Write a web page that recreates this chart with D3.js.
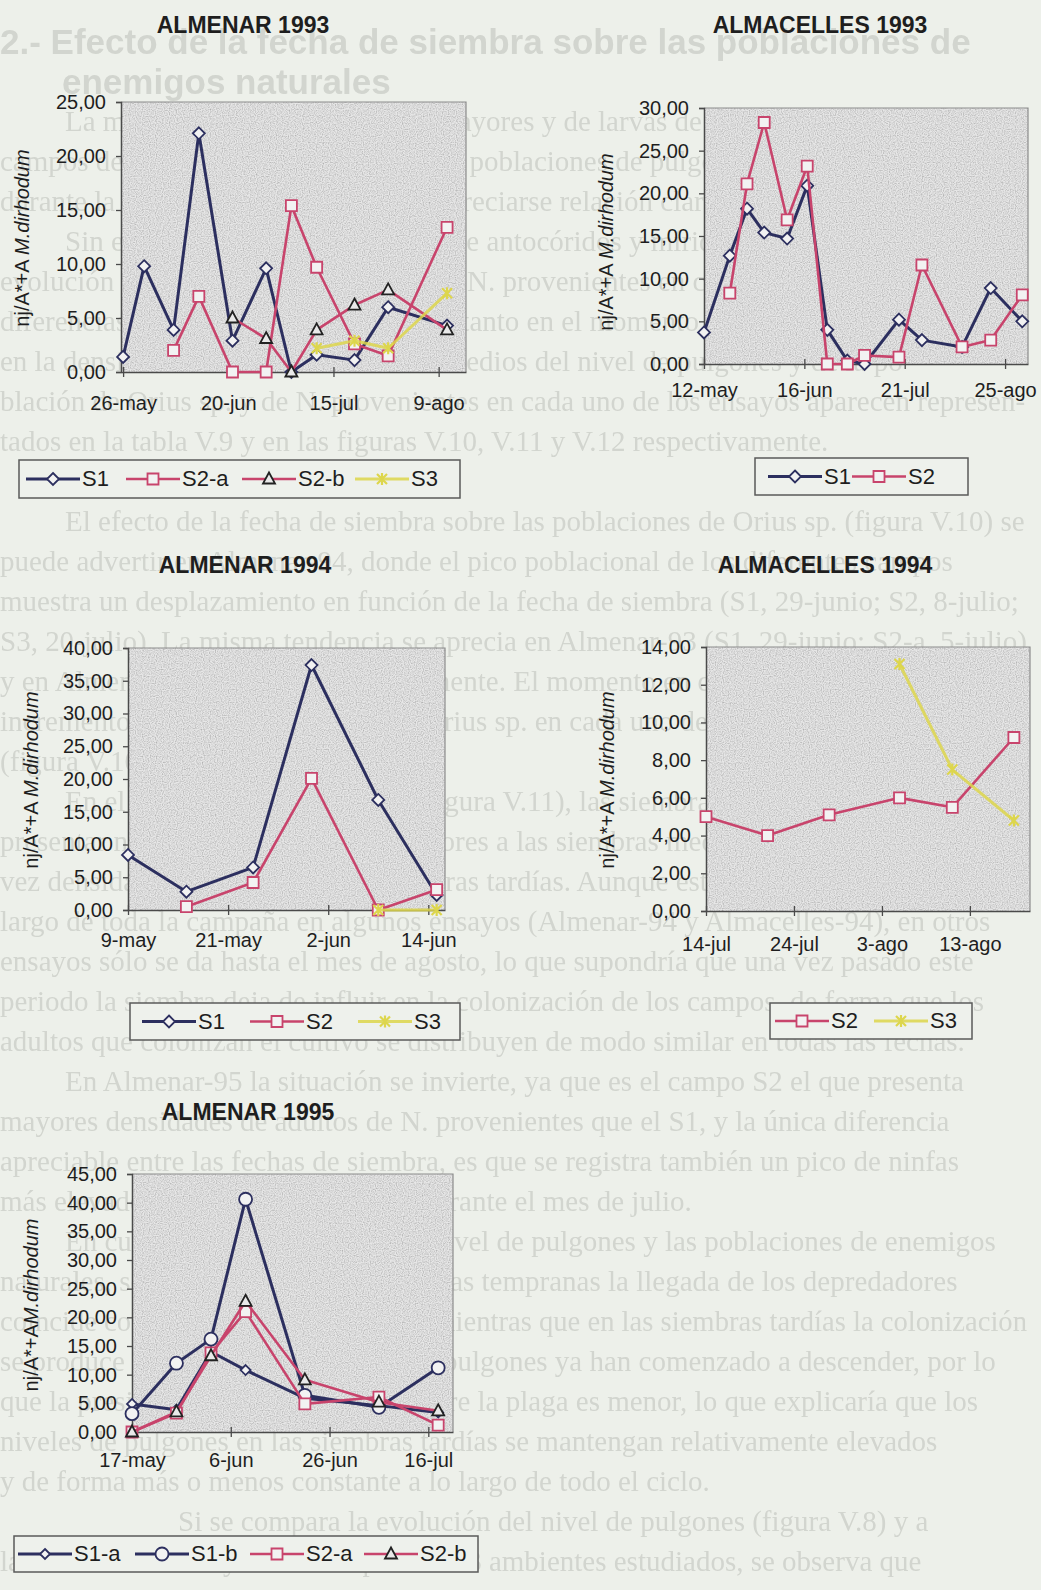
<!DOCTYPE html>
<html>
<head>
<meta charset="utf-8">
<script src="https://cdn.jsdelivr.net/npm/d3@7"></script>
<style>
  html, body { margin: 0; padding: 0; background: #edf0ea; }
  svg { display: block; }
</style>
</head>
<body>
<svg id="page" width="1041" height="1590"></svg>
<script>

// ---------- data ----------

// ALMENAR 1993
var alm93Dates = ["1993-05-26","1993-05-31","1993-06-07","1993-06-13","1993-06-21","1993-06-29","1993-07-05","1993-07-11","1993-07-20","1993-07-28","1993-08-11"];
var alm93S1  = [1.4, 9.8, 3.9, 22.1, 2.9, 9.6, 0.0, 1.6, 1.1, 6.0, 4.3];
var alm93S2a = [null, null, 2.0, 7.0, 0.0, 0.0, 15.4, 9.7, 2.6, 1.5, 13.4];
var alm93S2b = [null, null, null, null, 5.0, 3.1, 0.0, 3.9, 6.2, 7.6, 3.9];
var alm93S3  = [null, null, null, null, null, null, null, 2.2, 2.9, 2.2, 7.3];
var alm93XTicks = ["1993-05-26","1993-06-20","1993-07-15","1993-08-09"];
var alm93XLabels = ["26-may","20-jun","15-jul","9-ago"];
var alm93YTicks = [0, 5, 10, 15, 20, 25];

// ALMACELLES 1993
var alc93Dates = ["1993-05-12","1993-05-21","1993-05-27","1993-06-02","1993-06-10","1993-06-17","1993-06-24","1993-07-01","1993-07-07","1993-07-19","1993-07-27","1993-08-10","1993-08-20","1993-08-31"];
var alc93S1 = [3.7, 12.7, 18.2, 15.4, 14.7, 20.9, 4.0, 0.4, 0.0, 5.2, 2.8, 2.0, 8.9, 5.0];
var alc93S2 = [null, 8.3, 21.1, 28.3, 16.9, 23.2, 0.0, 0.0, 1.0, 0.8, 11.6, 2.0, 2.8, 8.1];
var alc93XTicks = ["1993-05-12","1993-06-16","1993-07-21","1993-08-25"];
var alc93XLabels = ["12-may","16-jun","21-jul","25-ago"];
var alc93YTicks = [0, 5, 10, 15, 20, 25, 30];

// ALMENAR 1994
var alm94Dates = ["1994-05-09","1994-05-16","1994-05-24","1994-05-31","1994-06-08","1994-06-15"];
var alm94S1 = [8.4, 2.8, 6.5, 37.4, 16.8, 2.3];
var alm94S2 = [null, 0.5, 4.2, 20.1, 0.0, 3.1];
var alm94S3 = [null, null, null, null, 0.0, 0.0];
var alm94XTicks = ["1994-05-09","1994-05-21","1994-06-02","1994-06-14"];
var alm94XLabels = ["9-may","21-may","2-jun","14-jun"];
var alm94YTicks = [0, 5, 10, 15, 20, 25, 30, 35, 40];

// ALMACELLES 1994
var alc94Dates = ["1994-07-14","1994-07-21","1994-07-28","1994-08-05","1994-08-11","1994-08-18"];
var alc94S2 = [5.0, 4.0, 5.1, 6.0, 5.5, 9.2];
var alc94S3 = [null, null, null, 13.1, 7.5, 4.8];
var alc94XTicks = ["1994-07-14","1994-07-24","1994-08-03","1994-08-13"];
var alc94XLabels = ["14-jul","24-jul","3-ago","13-ago"];
var alc94YTicks = [0, 2, 4, 6, 8, 10, 12, 14];

// ALMENAR 1995
var alm95Dates = ["1995-05-17","1995-05-26","1995-06-02","1995-06-09","1995-06-21","1995-07-06","1995-07-18"];
var alm95S1a = [4.9, 3.9, 14.0, 10.8, 5.9, 4.6, 3.4];
var alm95S1b = [3.2, 12.0, 16.2, 40.6, 6.4, 4.3, 11.2];
var alm95S2a = [0.0, 3.3, 13.8, 21.0, 4.9, 6.1, 1.2];
var alm95S2b = [0.0, 3.5, 13.3, 22.8, 9.1, 5.2, 3.7];
var alm95XTicks = ["1995-05-17","1995-06-06","1995-06-26","1995-07-16"];
var alm95XLabels = ["17-may","6-jun","26-jun","16-jul"];
var alm95YTicks = [0, 5, 10, 15, 20, 25, 30, 35, 40, 45];

// ---------- page ----------

var W = 1041, H = 1590;
var svg = d3.select("#page");
var parse = d3.timeParse("%Y-%m-%d");
var fmt = d3.formatLocale({decimal: ",", thousands: ".", grouping: [3], currency: ["", " €"]}).format(".2f");

var NAVY = "#2c2f5f", PINK = "#c8446c", YELLOW = "#ddd64c";
var FONT = "'Liberation Sans', Arial, sans-serif";

var defs = svg.append("defs");
// grain for the plot areas (scanned look)
var grain = defs.append("filter").attr("id", "grain")
	.attr("x", 0).attr("y", 0).attr("width", "100%").attr("height", "100%");
grain.append("feTurbulence").attr("type", "fractalNoise")
	.attr("baseFrequency", 0.85).attr("numOctaves", 1).attr("seed", 4);
grain.append("feColorMatrix").attr("type", "matrix")
	.attr("values", "1.4 0 0 0 0.1  1.4 0 0 0 0.1  1.4 0 0 0 0.1  0 0 0 0 0.55");
// soft edge for the show-through text
defs.append("filter").attr("id", "soft")
	.append("feGaussianBlur").attr("stdDeviation", 0.7);

svg.append("rect").attr("width", W).attr("height", H).attr("fill", "#edf0ea");

// faint text of the printed page showing behind the figures (rows 40px apart)
var pageText = svg.append("g").attr("fill", "#d2d5cf").attr("filter", "url(#soft)");
function rowY(k){ return 42 + 40 * k + 9; }

pageText.append("text").attr("x", 0).attr("y", rowY(0) + 3)
	.attr("font-family", FONT).attr("font-weight", "bold").attr("font-size", 35)
	.text("2.- Efecto de la fecha de siembra sobre las poblaciones de");
pageText.append("text").attr("x", 62).attr("y", rowY(1) + 3)
	.attr("font-family", FONT).attr("font-weight", "bold").attr("font-size", 35)
	.text("enemigos naturales");

// [row, indent, text]
var bodyLines = [
	[2, 65, "La mayor parte de coccinélidos mayores y de larvas de crisopas se observó en los"],
	[3, 0, "campos de siembra temprana, donde las poblaciones de pulgones fueron más elevadas"],
	[4, 0, "durante la fase inicial del cultivo, sin apreciarse relación clara con la fecha de siembra."],
	[5, 65, "Sin embargo, el comportamiento de antocóridos y míridos fue distinto. La"],
	[6, 0, "evolución poblacional de Orius sp. y de N. provenientes en cada ensayo muestra"],
	[7, 0, "diferencias entre las fechas de siembra, tanto en el momento de colonización como"],
	[8, 0, "en la densidad alcanzada. Los valores medios del nivel de pulgones y de la po-"],
	[9, 0, "blación de Orius sp. y de N. provenientes en cada uno de los ensayos aparecen represen-"],
	[10, 0, "tados en la tabla V.9 y en las figuras V.10, V.11 y V.12 respectivamente."],
	[12, 65, "El efecto de la fecha de siembra sobre las poblaciones de Orius sp. (figura V.10) se"],
	[13, 0, "puede advertir en Almenar-94, donde el pico poblacional de los diferentes campos"],
	[14, 0, "muestra un desplazamiento en función de la fecha de siembra (S1, 29-junio; S2, 8-julio;"],
	[15, 0, "S3, 20-julio). La misma tendencia se aprecia en Almenar-93 (S1, 29-junio; S2-a, 5-julio)"],
	[16, 0, "y en Almenar-95 aunque no tan claramente. El momento en que se produce el máximo"],
	[17, 0, "incremento del nivel poblacional de Orius sp. en cada uno de los campos de siembra"],
	[18, 0, "(figura V.10) se señala con una flecha."],
	[19, 65, "En el caso de N. provenientes (figura V.11), las siembras tempranas tienden a"],
	[20, 0, "presentar niveles poblacionales superiores a las siembras medias y tardías, y éstas a su"],
	[21, 0, "vez densidades mayores que las siembras tardías. Aunque este hecho se produce a lo"],
	[22, 0, "largo de toda la campaña en algunos ensayos (Almenar-94 y Almacelles-94), en otros"],
	[23, 0, "ensayos sólo se da hasta el mes de agosto, lo que supondría que una vez pasado este"],
	[24, 0, "periodo la siembra deja de influir en la colonización de los campos, de forma que los"],
	[25, 0, "adultos que colonizan el cultivo se distribuyen de modo similar en todas las fechas."],
	[26, 65, "En Almenar-95 la situación se invierte, ya que es el campo S2 el que presenta"],
	[27, 0, "mayores densidades de adultos de N. provenientes que el S1, y la única diferencia"],
	[28, 0, "apreciable entre las fechas de siembra, es que se registra también un pico de ninfas"],
	[29, 0, "más elevado en las siembras tardías durante el mes de julio."],
	[30, 65, "En cuanto a la relación entre el nivel de pulgones y las poblaciones de enemigos"],
	[31, 0, "naturales, se observa que en las siembras tempranas la llegada de los depredadores"],
	[32, 0, "coincide con el máximo de pulgones, mientras que en las siembras tardías la colonización"],
	[33, 0, "se produce cuando las poblaciones de pulgones ya han comenzado a descender, por lo"],
	[34, 0, "que la presión de los depredadores sobre la plaga es menor, lo que explicaría que los"],
	[35, 0, "niveles de pulgones en las siembras tardías se mantengan relativamente elevados"],
	[36, 0, "y de forma más o menos constante a lo largo de todo el ciclo."],
	[37, 178, "Si se compara la evolución del nivel de pulgones (figura V.8) y a"],
	[38, 0, "la de M. dirhodum y de Orius sp. en los 3 ambientes estudiados, se observa que"]
];
pageText.selectAll("text.body")
	.data(bodyLines)
	.enter()
	.append("text")
	.attr("class", "body")
	.attr("x", function(d){ return d[1]; })
	.attr("y", function(d){ return rowY(d[0]); })
	.attr("font-family", "'Liberation Serif', 'Times New Roman', serif")
	.attr("font-size", 29)
	.text(function(d){ return d[2]; })
	.each(function(d){
		// squeeze a line that would run past the page edge
		var room = W - 14 - d[1];
		if (this.getComputedTextLength() > room) {
			d3.select(this).attr("textLength", room).attr("lengthAdjust", "spacingAndGlyphs");
		}
	});

// ---------- marker shapes ----------

function markerPath(type){
	if (type === "diamond")  return "M0,-6L6,0L0,6L-6,0Z";
	if (type === "sdiamond") return "M0,-5L5,0L0,5L-5,0Z";
	if (type === "square")   return "M-5.5,-5.5H5.5V5.5H-5.5Z";
	if (type === "triangle") return "M0,-6.5L6,4.5H-6Z";
	if (type === "circle")   return "M-6.5,0A6.5,6.5 0 1,0 6.5,0A6.5,6.5 0 1,0 -6.5,0Z";
	if (type === "star")     return "M-5,-5L5,5M-5,5L5,-5M0,-6V6";
	return "";
}

var styles = {
	"S1":   {line: NAVY,  width: 3,   marker: "diamond",  mstroke: NAVY,   mfill: "#f2f2f2"},
	"S1-a": {line: NAVY,  width: 3,   marker: "sdiamond", mstroke: NAVY,   mfill: "#f2f2f2"},
	"S1-b": {line: NAVY,  width: 3,   marker: "circle",   mstroke: NAVY,   mfill: "#f2f2f2"},
	"S2":   {line: PINK,  width: 2.6, marker: "square",   mstroke: PINK,   mfill: "#f2f2f2"},
	"S2-a": {line: PINK,  width: 2.6, marker: "square",   mstroke: PINK,   mfill: "#f2f2f2"},
	"S2-b": {line: PINK,  width: 2.6, marker: "triangle", mstroke: "#222", mfill: "#e9e9e9"},
	"S3":   {line: YELLOW, width: 3,  marker: "star",     mstroke: YELLOW, mfill: "none"}
};

// ---------- one chart ----------

function drawChart(c){
	var g = svg.append("g");

	var x = d3.scaleTime().domain(c.domain).range([c.left, c.right]);
	var y = d3.scaleLinear().domain([0, c.yTicks[c.yTicks.length - 1]]).range([c.bottom, c.top]);
	var pw = c.right - c.left, ph = c.bottom - c.top;

	// title
	g.append("text")
		.attr("x", c.titleX).attr("y", c.titleY)
		.attr("text-anchor", "middle")
		.attr("font-family", FONT).attr("font-weight", "bold").attr("font-size", 23)
		.attr("fill", "#1e1e1e")
		.text(c.title);

	// plot area
	g.append("rect").attr("x", c.left).attr("y", c.top).attr("width", pw).attr("height", ph)
		.attr("fill", "#c9c9c9");
	g.append("rect").attr("x", c.left).attr("y", c.top).attr("width", pw).attr("height", ph)
		.attr("filter", "url(#grain)");
	g.append("path")
		.attr("d", "M" + c.left + "," + c.top + "H" + c.right + "V" + c.bottom)
		.attr("fill", "none").attr("stroke", "#8c8c8c").attr("stroke-width", 1.2);

	// y axis
	var yAxis = d3.axisLeft(y)
		.tickValues(c.yTicks)
		.tickFormat(fmt)
		.tickSize(5)
		.tickPadding(10);
	var ya = g.append("g").attr("transform", "translate(" + c.left + ",0)").call(yAxis);
	ya.select(".domain").attr("stroke", "#4a4a4a").attr("stroke-width", 1.5);
	ya.selectAll(".tick line").attr("stroke", "#4a4a4a").attr("stroke-width", 1.3);
	ya.selectAll(".tick text")
		.attr("font-family", FONT).attr("font-size", 20).attr("fill", "#1e1e1e");

	// x axis (ticks cross the axis line)
	var xAxis = d3.axisBottom(x)
		.tickValues(c.xTicks.map(parse))
		.tickFormat(function(d, i){ return c.xLabels[i]; })
		.tickSizeInner(5)
		.tickSizeOuter(0)
		.tickPadding(c.xPad);
	var xa = g.append("g").attr("transform", "translate(0," + c.bottom + ")").call(xAxis);
	xa.select(".domain").attr("stroke", "#4a4a4a").attr("stroke-width", 1.5);
	xa.selectAll(".tick line").attr("y1", -5).attr("stroke", "#4a4a4a").attr("stroke-width", 1.3);
	xa.selectAll(".tick text")
		.attr("font-family", FONT).attr("font-size", 20).attr("fill", "#1e1e1e");

	// y axis title
	var yt = g.append("text")
		.attr("transform", "translate(" + c.yLabelX + "," + c.yLabelY + ") rotate(-90)")
		.attr("text-anchor", "middle")
		.attr("font-family", FONT).attr("font-size", 20).attr("fill", "#1e1e1e");
	yt.append("tspan").text(c.yLabelA);
	yt.append("tspan").attr("font-style", "italic").text("M.dirhodum");

	// series
	var dates = c.dates.map(parse);
	c.series.forEach(function(s){
		var st = styles[s.name];
		var pts = dates.map(function(d, i){ return {date: d, v: s.values[i]}; })
			.filter(function(p){ return p.v !== null; });

		g.append("path")
			.datum(pts)
			.attr("d", d3.line()
				.x(function(p){ return x(p.date); })
				.y(function(p){ return y(p.v); }))
			.attr("fill", "none")
			.attr("stroke", st.line)
			.attr("stroke-width", st.width)
			.attr("stroke-linejoin", "round")
			.attr("opacity", s.name === "S3" ? 0.85 : 1);

		g.selectAll(null)
			.data(pts)
			.enter()
			.append("path")
			.attr("transform", function(p){ return "translate(" + x(p.date) + "," + y(p.v) + ")"; })
			.attr("d", markerPath(st.marker))
			.attr("fill", st.mfill)
			.attr("stroke", st.mstroke)
			.attr("stroke-width", st.marker === "star" ? 2.2 : 1.8);
	});

	// legend
	var lg = c.legend;
	g.append("rect")
		.attr("x", lg.x).attr("y", lg.y).attr("width", lg.w).attr("height", lg.h)
		.attr("fill", "#eef1ec").attr("stroke", "#5a5a5a").attr("stroke-width", 1.5);
	c.series.forEach(function(s, i){
		var st = styles[s.name];
		var x0 = lg.items[i], cy = lg.y + lg.h / 2;
		g.append("line")
			.attr("x1", x0).attr("x2", x0 + 54).attr("y1", cy).attr("y2", cy)
			.attr("stroke", st.line).attr("stroke-width", st.width)
			.attr("opacity", s.name === "S3" ? 0.85 : 1);
		g.append("path")
			.attr("transform", "translate(" + (x0 + 27) + "," + cy + ")")
			.attr("d", markerPath(st.marker))
			.attr("fill", st.mfill).attr("stroke", st.mstroke)
			.attr("stroke-width", st.marker === "star" ? 2.2 : 1.8);
		g.append("text")
			.attr("x", x0 + 56).attr("y", cy + 7)
			.attr("font-family", FONT).attr("font-size", 22).attr("fill", "#1e1e1e")
			.text(s.name);
	});
}

// ---------- the five charts ----------

drawChart({
	title: "ALMENAR 1993", titleX: 243, titleY: 33,
	left: 121, right: 466, top: 102, bottom: 372,
	domain: [new Date(1993, 4, 25, 12), new Date(1993, 7, 15, 12)],
	yTicks: alm93YTicks, xTicks: alm93XTicks, xLabels: alm93XLabels, xPad: 19,
	yLabelX: 29, yLabelY: 238, yLabelA: "nj/A*+A ",
	dates: alm93Dates,
	series: [
		{name: "S1", values: alm93S1},
		{name: "S2-a", values: alm93S2a},
		{name: "S2-b", values: alm93S2b},
		{name: "S3", values: alm93S3}
	],
	legend: {x: 19, y: 460, w: 441, h: 38, items: [26, 126, 242, 355]}
});

drawChart({
	title: "ALMACELLES 1993", titleX: 820, titleY: 33,
	left: 704, right: 1028, top: 108, bottom: 364,
	domain: [new Date(1993, 4, 12), new Date(1993, 8, 2)],
	yTicks: alc93YTicks, xTicks: alc93XTicks, xLabels: alc93XLabels, xPad: 14,
	yLabelX: 613, yLabelY: 242, yLabelA: "nj/A*+A ",
	dates: alc93Dates,
	series: [
		{name: "S1", values: alc93S1},
		{name: "S2", values: alc93S2}
	],
	legend: {x: 755, y: 458, w: 213, h: 37, items: [768, 852]}
});

drawChart({
	title: "ALMENAR 1994", titleX: 245, titleY: 573,
	left: 128, right: 445, top: 648, bottom: 910,
	domain: [new Date(1994, 4, 9), new Date(1994, 5, 16)],
	yTicks: alm94YTicks, xTicks: alm94XTicks, xLabels: alm94XLabels, xPad: 18,
	yLabelX: 38, yLabelY: 780, yLabelA: "nj/A*+A ",
	dates: alm94Dates,
	series: [
		{name: "S1", values: alm94S1},
		{name: "S2", values: alm94S2},
		{name: "S3", values: alm94S3}
	],
	legend: {x: 130, y: 1003, w: 330, h: 37, items: [142, 250, 358]}
});

drawChart({
	title: "ALMACELLES 1994", titleX: 825, titleY: 573,
	left: 706, right: 1030, top: 647, bottom: 911,
	domain: [new Date(1994, 6, 14), new Date(1994, 7, 19, 20)],
	yTicks: alc94YTicks, xTicks: alc94XTicks, xLabels: alc94XLabels, xPad: 21,
	yLabelX: 614, yLabelY: 780, yLabelA: "nj/A*+A ",
	dates: alc94Dates,
	series: [
		{name: "S2", values: alc94S2},
		{name: "S3", values: alc94S3}
	],
	legend: {x: 770, y: 1003, w: 202, h: 36, items: [775, 874]}
});

drawChart({
	title: "ALMENAR 1995", titleX: 248, titleY: 1120,
	left: 132, right: 453, top: 1174, bottom: 1432,
	domain: [new Date(1995, 4, 17), new Date(1995, 6, 21)],
	yTicks: alm95YTicks, xTicks: alm95XTicks, xLabels: alm95XLabels, xPad: 16,
	yLabelX: 38, yLabelY: 1305, yLabelA: "nj/A*+A",
	dates: alm95Dates,
	series: [
		{name: "S1-a", values: alm95S1a},
		{name: "S1-b", values: alm95S1b},
		{name: "S2-a", values: alm95S2a},
		{name: "S2-b", values: alm95S2b}
	],
	legend: {x: 14, y: 1536, w: 464, h: 36, items: [18, 135, 250, 364]}
});

</script>
</body>
</html>
